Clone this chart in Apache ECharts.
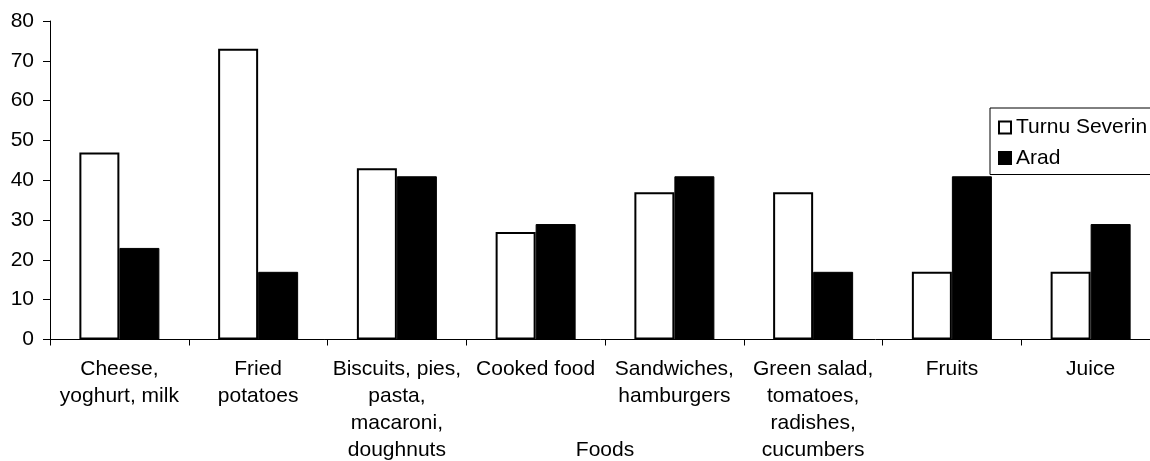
<!DOCTYPE html>
<html>
<head>
<meta charset="utf-8">
<script src="https://cdn.jsdelivr.net/npm/echarts@6/dist/echarts.min.js"></script>
<style>
  html, body { margin: 0; padding: 0; background: #fff; }
  #chart { width: 1150px; height: 461px; }
</style>
</head>
<body>
<div id="chart"></div>
<script>
// Food categories (x axis)
const foods = [
  'Cheese,\nyoghurt, milk',
  'Fried\npotatoes',
  'Biscuits, pies,\npasta,\nmacaroni,\ndoughnuts',
  'Cooked food',
  'Sandwiches,\nhamburgers',
  'Green salad,\ntomatoes,\nradishes,\ncucumbers',
  'Fruits',
  'Juice'
];

// Values per town
const turnuSeverin = [47, 73, 43, 27, 37, 37, 17, 17];
const arad = [23, 17, 41, 29, 41, 17, 41, 29];

// Value axis range
const yMin = 0;
const yMax = 80;
const yStep = 10;

const font = 'Liberation Sans, Arial, sans-serif';

const chart = echarts.init(document.getElementById('chart'), null, { renderer: 'canvas' });

chart.setOption({
  animation: false,
  backgroundColor: '#ffffff',
  textStyle: { fontFamily: font, color: '#000' },
  grid: {
    left: 50, right: -10, top: 21, bottom: 121.5,
    containLabel: false,
    outerBoundsMode: 'none'
  },
  legend: {
    orient: 'vertical',
    left: 990,
    top: 108,
    padding: [9, 30, 6, 8],
    itemGap: 9.5,
    itemWidth: 12,
    itemHeight: 12,
    borderColor: '#000',
    borderWidth: 1,
    backgroundColor: '#fff',
    textStyle: { fontFamily: font, fontSize: 21, color: '#000', padding: [0, 0, 0, 0] },
    data: [
      { name: 'Turnu Severin', icon: 'rect', itemStyle: { color: '#fff', borderColor: '#000', borderWidth: 2 } },
      { name: 'Arad', icon: 'rect', itemStyle: { color: '#000' } }
    ]
  },
  xAxis: {
    type: 'category',
    data: foods,
    name: 'Foods',
    nameLocation: 'middle',
    nameGap: 100,
    nameMoveOverlap: false,
    nameTextStyle: { fontFamily: font, fontSize: 21, color: '#000', verticalAlign: 'top' },
    axisLine: { lineStyle: { color: '#000', width: 1 } },
    axisTick: { show: true, length: 6, inside: false, lineStyle: { color: '#000' } },
    axisLabel: {
      interval: 0,
      margin: 16,
      fontFamily: font,
      fontSize: 21,
      lineHeight: 27,
      color: '#000',
      align: 'center'
    },
    splitLine: { show: false }
  },
  yAxis: {
    type: 'value',
    min: yMin,
    max: yMax,
    interval: yStep,
    axisLine: { show: true, lineStyle: { color: '#000', width: 1 } },
    axisTick: { show: true, length: 7, lineStyle: { color: '#000' } },
    axisLabel: { fontFamily: font, fontSize: 21, color: '#000', margin: 16 },
    splitLine: { show: false }
  },
  series: [
    {
      name: 'Turnu Severin',
      type: 'bar',
      data: turnuSeverin,
      barWidth: 40,
      barGap: '0%',
      itemStyle: { color: '#fff', borderColor: '#000', borderWidth: 2 }
    },
    {
      name: 'Arad',
      type: 'bar',
      data: arad,
      barWidth: 40,
      barGap: '0%',
      itemStyle: { color: '#000', borderColor: '#000', borderWidth: 1 }
    }
  ]
});
</script>
</body>
</html>
